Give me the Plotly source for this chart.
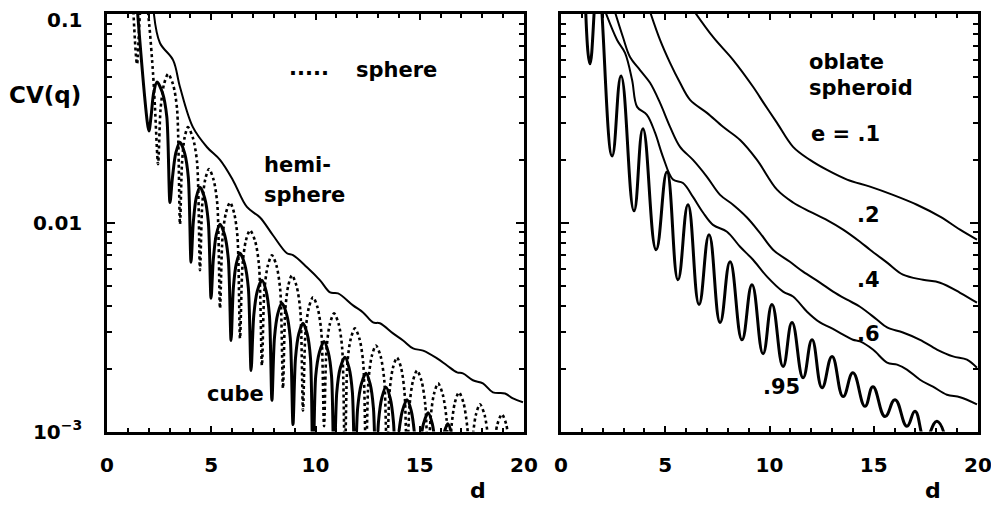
import plotly.graph_objects as go

# ---------------- data ----------------
# left panel: cube (solid, oscillating)
cube_d = [1.44, 2.01,
          2.11, 2.24, 2.40, 2.66, 2.87, 3.02,
          3.14, 3.30, 3.50, 3.72, 3.90, 4.03,
          4.14, 4.28, 4.46, 4.68, 4.86, 4.99,
          5.10, 5.24, 5.42, 5.64, 5.82, 5.95,
          6.06, 6.20, 6.38, 6.60, 6.78, 6.91,
          7.04, 7.21, 7.43, 7.63, 7.79, 7.91,
          8.03, 8.19, 8.39, 8.61, 8.79, 8.92,
          9.04, 9.20, 9.40, 9.60, 9.76, 9.88,
          10.01, 10.19, 10.41, 10.61, 10.77, 10.89,
          11.02, 11.19, 11.41, 11.61, 11.77, 11.89,
          12.02, 12.20, 12.42, 12.62, 12.78, 12.90,
          13.02, 13.18, 13.38, 13.58, 13.74, 13.86,
          13.99, 14.17, 14.39, 14.59, 14.75, 14.87,
          15.00, 15.18, 15.40, 15.60, 15.76, 15.88,
          16.00, 16.15, 16.35, 16.53, 16.68, 16.79]
cube_cv = [0.110, 0.0275,
           0.0321, 0.0420, 0.0472, 0.0420, 0.0321, 0.0125,
           0.0165, 0.0216, 0.0243, 0.0216, 0.0165, 0.00647,
           0.0101, 0.0132, 0.0148, 0.0132, 0.0101, 0.00435,
           0.00669, 0.00876, 0.00984, 0.00876, 0.00669, 0.00273,
           0.00486, 0.00635, 0.00714, 0.00635, 0.00486, 0.00196,
           0.00360, 0.00472, 0.00530, 0.00472, 0.00360, 0.00141,
           0.00280, 0.00366, 0.00411, 0.00366, 0.00280, 0.00108,
           0.00224, 0.00294, 0.00330, 0.00294, 0.00224, 0.0006,
           0.00184, 0.00240, 0.00270, 0.00240, 0.00184, 0.0006,
           0.00154, 0.00202, 0.00227, 0.00202, 0.00154, 0.0006,
           0.00129, 0.00169, 0.00190, 0.00169, 0.00129, 0.0006,
           0.00111, 0.00145, 0.00163, 0.00145, 0.00111, 0.0006,
           0.00097, 0.00126, 0.00142, 0.00126, 0.00097, 0.0006,
           0.00084, 0.00109, 0.00123, 0.00109, 0.00084, 0.0006,
           0.00074, 0.00097, 0.00109, 0.00097, 0.00074, 0.0006]

# left panel: sphere (dotted, oscillating)
sphere_d = [1.25, 1.44, 1.62, 1.82, 2.02, 2.21, 2.30, 2.45,
            2.57, 2.73, 2.93, 3.17, 3.36, 3.50,
            3.60, 3.72, 3.88, 4.12, 4.32, 4.46,
            4.57, 4.71, 4.89, 5.11, 5.29, 5.42,
            5.54, 5.70, 5.90, 6.10, 6.26, 6.38,
            6.50, 6.66, 6.86, 7.10, 7.29, 7.43,
            7.55, 7.71, 7.91, 8.13, 8.31, 8.44,
            8.55, 8.69, 8.87, 9.09, 9.27, 9.40,
            9.52, 9.68, 9.88, 10.10, 10.28, 10.41,
            10.53, 10.69, 10.89, 11.11, 11.28, 11.41,
            11.53, 11.69, 11.89, 12.11, 12.29, 12.42,
            12.54, 12.70, 12.90, 13.12, 13.30, 13.43,
            13.55, 13.71, 13.91, 14.11, 14.27, 14.39,
            14.51, 14.67, 14.87, 15.09, 15.27, 15.40,
            15.52, 15.68, 15.88, 16.10, 16.28, 16.40,
            16.52, 16.68, 16.88, 17.10, 17.28, 17.41,
            17.53, 17.69, 17.89, 18.11, 18.29, 18.42,
            18.55, 18.72, 18.94, 19.15, 19.30, 19.42]
sphere_cv = [0.110, 0.0575, 0.110, 0.130, 0.090, 0.0515, 0.0358, 0.0191,
             0.0351, 0.0459, 0.0516, 0.0459, 0.0351, 0.00984,
             0.0195, 0.0255, 0.0287, 0.0255, 0.0195, 0.00592,
             0.0123, 0.0161, 0.0181, 0.0161, 0.0123, 0.00389,
             0.0085, 0.0111, 0.0125, 0.0111, 0.0085, 0.00279,
             0.00626, 0.0082, 0.0092, 0.0082, 0.00626, 0.00207,
             0.00475, 0.00622, 0.00699, 0.00622, 0.00475, 0.00161,
             0.00381, 0.00498, 0.0056, 0.00498, 0.00381, 0.00126,
             0.00299, 0.00392, 0.0044, 0.00392, 0.00299, 0.00106,
             0.0025, 0.00328, 0.00368, 0.00328, 0.0025, 0.0007,
             0.00212, 0.00278, 0.00312, 0.00278, 0.00212, 0.0007,
             0.00175, 0.0023, 0.00258, 0.0023, 0.00175, 0.0007,
             0.00154, 0.00201, 0.00226, 0.00201, 0.00154, 0.0007,
             0.00133, 0.00174, 0.00196, 0.00174, 0.00133, 0.0007,
             0.00116, 0.00151, 0.0017, 0.00151, 0.00116, 0.0007,
             0.00105, 0.00137, 0.00154, 0.00137, 0.00105, 0.0007,
             0.00092, 0.0012, 0.00135, 0.0012, 0.00092, 0.0007,
             0.00082, 0.00108, 0.00121, 0.00108, 0.00082, 0.0007]

# left panel: hemisphere (solid, smooth)
hemi_d = [2.25, 2.54, 3.17, 3.50, 4.12, 4.80, 5.42, 6.04, 6.71, 7.34, 7.96, 8.63, 8.92, 9.59,
          10.22, 10.70, 11.08, 11.80, 12.28, 12.76, 13.09, 13.72, 14.20, 14.68, 15.16, 15.83,
          16.31, 16.79, 17.07, 17.55, 18.03, 18.51, 19.09, 19.47, 19.95]
hemi_cv = [0.100, 0.0726, 0.0601, 0.0447, 0.0287, 0.0230, 0.0200, 0.0160, 0.0119, 0.0106,
           0.00871, 0.00714, 0.00699, 0.00612, 0.00530, 0.00464, 0.00459, 0.00402, 0.00372,
           0.00333, 0.00330, 0.00295, 0.00273, 0.00250, 0.00244, 0.00224, 0.00207, 0.00192,
           0.00190, 0.00176, 0.00170, 0.00154, 0.00152, 0.00144, 0.00138]

# right panel (oblate spheroid, eccentricity e)
e95_d = [1.15, 1.39, 1.77, 2.45, 2.88, 3.50, 3.93, 4.56, 5.08, 5.61, 6.09, 6.62, 7.10, 7.63,
         8.11, 8.68, 9.16, 9.69, 10.12, 10.65, 11.08, 11.61, 12.04, 12.52, 13.00, 13.53, 14.00,
         14.58, 14.96, 15.54, 16.02, 16.59, 16.98, 17.46, 18.03, 18.51]
e95_cv = [0.130, 0.0577, 0.146, 0.0209, 0.0505, 0.0114, 0.0282, 0.00743, 0.0175, 0.00533,
          0.0122, 0.00406, 0.00877, 0.00333, 0.00650, 0.00275, 0.00505, 0.00236, 0.00406,
          0.00205, 0.00333, 0.00181, 0.00275, 0.00162, 0.00229, 0.00147, 0.00191, 0.00132,
          0.00164, 0.00118, 0.00142, 0.00106, 0.00125, 0.000916, 0.00112, 0.000867]

e6_d = [2.01, 2.69, 3.07, 3.41, 3.65, 4.12, 4.51, 4.89, 5.37, 5.85, 6.33, 6.81, 7.29, 7.96,
        8.59, 9.21, 9.88, 10.65, 11.13, 11.80, 12.42, 12.90, 13.53, 14.00, 14.34, 14.96, 15.64,
        16.12, 16.59, 17.22, 17.84, 18.51, 19.14, 19.95]
e6_cv = [0.110, 0.0751, 0.0651, 0.0483, 0.0359, 0.0329, 0.0270, 0.0207, 0.0161, 0.0155, 0.0133,
         0.0112, 0.00977, 0.00906, 0.00767, 0.00665, 0.00552, 0.00468, 0.00443, 0.00375,
         0.00333, 0.00315, 0.00291, 0.00275, 0.00270, 0.00247, 0.00214, 0.00209, 0.00198,
         0.00177, 0.00164, 0.00150, 0.00146, 0.00135]

e4_d = [2.49, 2.97, 3.31, 3.79, 4.27, 4.75, 5.23, 5.71, 6.33, 7.00, 7.63, 8.25, 8.92, 9.54,
        10.17, 10.98, 11.61, 12.42, 13.05, 13.72, 14.34, 15.16, 15.64, 16.40, 17.22, 18.03,
        18.80, 19.47, 19.95]
e4_cv = [0.110, 0.0776, 0.0622, 0.0539, 0.0468, 0.0375, 0.0288, 0.0231, 0.0200, 0.0166, 0.0136,
         0.0122, 0.0106, 0.00895, 0.00743, 0.00650, 0.00583, 0.00517, 0.00468, 0.00428,
         0.00396, 0.00343, 0.00315, 0.00298, 0.00275, 0.00247, 0.00229, 0.00221, 0.00202]

e2_d = [4.17, 4.75, 5.23, 5.71, 6.19, 7.00, 7.77, 8.59, 9.40, 10.36, 11.13, 11.94, 12.76,
        13.53, 14.34, 14.82, 15.64, 16.40, 17.36, 18.18, 19.14, 19.95]
e2_cv = [0.110, 0.0751, 0.0583, 0.0468, 0.0388, 0.0336, 0.0288, 0.0249, 0.0200, 0.0144, 0.0125,
         0.0113, 0.0103, 0.00927, 0.00811, 0.00743, 0.00644, 0.00564, 0.00533, 0.00516,
         0.00462, 0.00414]

e1_d = [6.19, 7.29, 8.25, 9.21, 9.78, 10.36, 11.13, 11.94, 12.76, 13.72, 14.82, 15.92, 17.07,
        18.18, 19.14, 19.95]
e1_cv = [0.110, 0.0776, 0.0603, 0.0448, 0.0367, 0.0301, 0.0231, 0.0200, 0.0179, 0.0161, 0.0149,
         0.0136, 0.0122, 0.0107, 0.00927, 0.00830]

x_major = [0, 5, 10, 15, 20]
x_minor = [1, 2, 3, 4, 6, 7, 8, 9, 11, 12, 13, 14, 16, 17, 18, 19]
y_major = [0.001, 0.01, 0.1]
y_major_text = ["10<sup>−3</sup>", "0.01", ""]   # "0.1" is drawn as a text label (top edge)
y_top_label = "0.1"
y_minor = [0.002, 0.003, 0.004, 0.005, 0.006, 0.007, 0.008, 0.009,
           0.02, 0.03, 0.04, 0.05, 0.06, 0.07, 0.08, 0.09]

# ---------------- figure ----------------
# the page body keeps its default 8px margin, so the figure is drawn 8px in
OFF = 8
W, H = 999 - OFF, 510 - OFF
FONT = "DejaVu Sans"
BLK = "black"

def px(x):
    return (x - OFF) / W

def py(y):
    return 1 - (y - OFF) / H

fig = go.Figure()

def add(xs, ys, ax, width, dash="solid", smooth=1.0):
    fig.add_trace(go.Scatter(
        x=xs, y=ys, mode="lines", xaxis="x" + ax, yaxis="y" + ax,
        line=dict(color=BLK, width=width, dash=dash, shape="spline", smoothing=smooth),
        showlegend=False, hoverinfo="skip"))

add(sphere_d, sphere_cv, "", 2.6, dash="dot", smooth=0.8)
add(cube_d, cube_cv, "", 3.0, smooth=0.8)
add(hemi_d, hemi_cv, "", 2.0)

add(e1_d, e1_cv, "2", 2.0)
add(e2_d, e2_cv, "2", 2.0)
add(e4_d, e4_cv, "2", 2.0)
add(e6_d, e6_cv, "2", 2.0)
add(e95_d, e95_cv, "2", 3.0, smooth=1.3)

xdom1 = [px(107), px(524)]
xdom2 = [px(561), px(978)]
ydom = [py(431.5), py(14)]

TICKFONT = dict(family=FONT, size=20, color=BLK, weight="bold")

def xaxis(dom, anchor):
    return dict(domain=dom, anchor=anchor, range=[0, 20], showgrid=False, zeroline=False,
                automargin=False,
                showline=True, linecolor=BLK, linewidth=2.5, mirror="ticks",
                ticks="inside", ticklen=6, tickwidth=2, tickcolor=BLK,
                tickvals=x_major, ticktext=[str(v) for v in x_major],
                tickfont=TICKFONT, ticklabelstandoff=14,
                minor=dict(tickvals=x_minor, ticks="inside", ticklen=4, tickwidth=2, tickcolor=BLK))

def yaxis(dom, anchor, labels):
    return dict(domain=dom, anchor=anchor, type="log", range=[-3, -1], showgrid=False,
                zeroline=False, automargin=False,
                showline=True, linecolor=BLK, linewidth=2.5, mirror="ticks",
                ticks="inside", ticklen=8, tickwidth=2, tickcolor=BLK,
                tickvals=y_major, ticktext=y_major_text, showticklabels=labels,
                tickfont=TICKFONT, ticklabelstandoff=18,
                minor=dict(tickvals=y_minor, ticks="inside", ticklen=5, tickwidth=2, tickcolor=BLK))

fig.update_layout(
    width=W, height=H, margin=dict(l=0, r=0, t=0, b=0, autoexpand=False),
    paper_bgcolor="white", plot_bgcolor="white",
    xaxis=xaxis(xdom1, "y"), yaxis=yaxis(ydom, "x", True),
    xaxis2=xaxis(xdom2, "y2"), yaxis2=yaxis(ydom, "x2", False),
)

def label(text, x, y, size=21, xanchor="center"):
    fig.add_annotation(text=text, x=px(x), y=py(y), xref="paper", yref="paper",
                       showarrow=False, xanchor=xanchor, yanchor="middle",
                       font=dict(family=FONT, size=size, color=BLK, weight="bold"))

label(y_top_label, 84, 20, size=20, xanchor="right")
label("CV(q)", 45, 95, size=23)
label("d", 478, 490, size=22)
label("d", 933, 490, size=22)

label(".....", 287, 68, xanchor="left")
label("sphere", 354, 70, xanchor="left")
label("hemi-", 262, 165, xanchor="left")
label("sphere", 262, 195, xanchor="left")
label("cube", 235, 394)

label("oblate", 807, 62, xanchor="left")
label("spheroid", 807, 88, xanchor="left")
label("e = .1", 809, 134, xanchor="left")
label(".2", 855, 215, xanchor="left")
label(".4", 855, 280, xanchor="left")
label(".6", 855, 334, xanchor="left")
label(".95", 761, 387, xanchor="left")

fig.write_html("out.html")
